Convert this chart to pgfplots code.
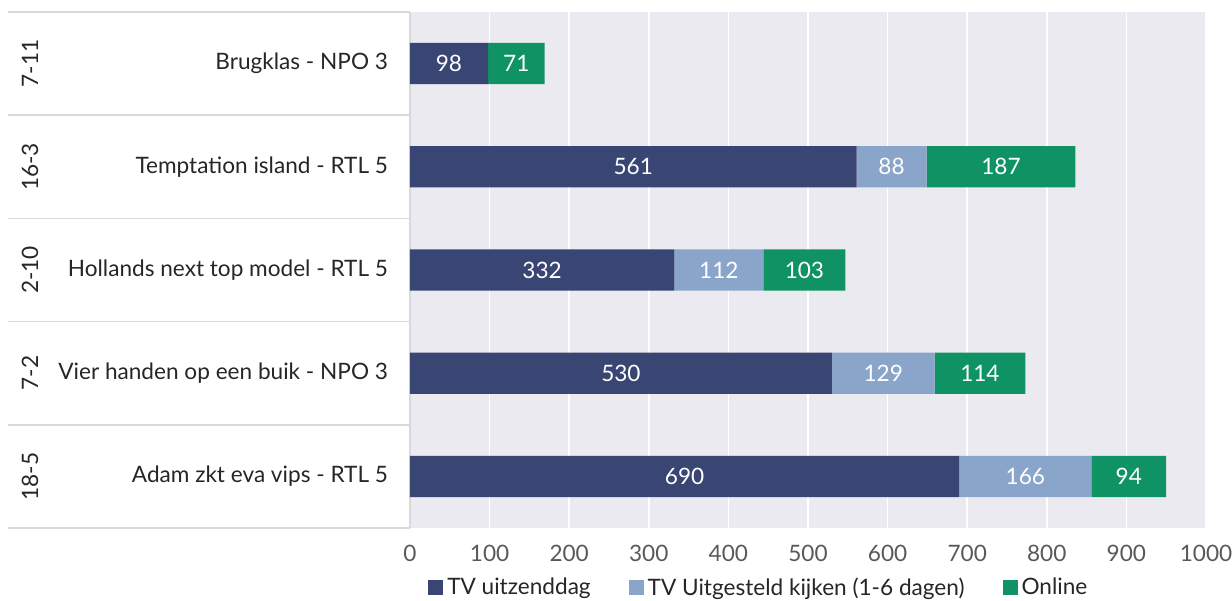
\documentclass[border=0pt]{standalone}
\usepackage{fontspec}
\setmainfont{Lato}
\usepackage{pgfplots}
\usepackage{pgfplotstable}
\pgfplotsset{compat=1.18}

\definecolor{navy}{HTML}{394573}
\definecolor{lblue}{HTML}{8AA5CA}
\definecolor{dgreen}{HTML}{0F9364}
\definecolor{bggrey}{HTML}{EBEAF0}
\definecolor{tablegrey}{HTML}{D9D9D9}
\definecolor{ticktext}{HTML}{595959}

% kijkcijfers (x1000) per programma
\pgfplotstableread{
idx tv uit onl
4 98 0 71
3 561 88 187
2 332 112 103
1 530 129 114
0 690 166 94
}\kijkdata

\newcommand{\lblfont}{\fontsize{11.3bp}{13.5bp}\selectfont}

\pgfplotsset{
  seg/.style={fill=#1, draw=none},
}

\begin{document}
\begin{tikzpicture}
\begin{axis}[
    scale only axis,
    width=398bp, height=258bp,
    xbar stacked, bar width=0.4,
    xmin=0, xmax=1000, ymin=-0.5, ymax=4.5,
    xtick={0,100,...,1000},
    ytick={0,1,2,3,4},
    yticklabels={Adam zkt eva vips - RTL 5, Vier handen op een buik - NPO 3,
      Hollands next top model - RTL 5, Temptation island - RTL 5, Brugklas - NPO 3},
    major tick length=0pt,
    separate axis lines,
    axis x line*=bottom, axis y line*=left,
    x axis line style={draw=none},
    y axis line style={draw=tablegrey, line width=0.75bp},
    axis background/.style={fill=bggrey},
    xmajorgrids, grid style={white, line width=0.75bp},
    tick label style={font=\lblfont},
    xticklabel style={text=ticktext, yshift=-5bp},
    yticklabel style={text=black!85, xshift=-7.5bp},
    /pgf/number format/assume math mode=true,
    /pgf/number format/1000 sep={},
    point meta=explicit,
    nodes near coords={\pgfmathfloatifflags{\pgfplotspointmeta}{0}{}{\pgfmathprintnumber{\pgfplotspointmeta}}},
    every node near coord/.append style={font=\lblfont, anchor=center, text=white},
    legend columns=3,
    legend cell align=left,
    legend style={at={(rel axis cs:0.0225,-0.116)}, anchor=west, draw=none,
      fill=none, inner sep=0pt, font=\lblfont, text=black!85,
      /tikz/every even column/.append style={column sep=17bp}},
    legend image code/.code={\fill[#1] (0bp,-3.75bp) rectangle (7.5bp,3.75bp);},
    clip=false,
]
\addplot[seg=navy] table[x=tv, y=idx, meta=tv] {\kijkdata};
\addlegendentry{TV uitzenddag}
\addplot[seg=lblue] table[x=uit, y=idx, meta=uit] {\kijkdata};
\addlegendentry{TV Uitgesteld kijken (1-6 dagen)}
\addplot[seg=dgreen] table[x=onl, y=idx, meta=onl] {\kijkdata};
\addlegendentry{Online}

% tabel links: scheidingslijnen
\draw[tablegrey, line width=0.75bp] ([xshift=-201bp]axis cs:0,-0.5) -- (axis cs:0,-0.5);
\draw[tablegrey, line width=0.75bp] ([xshift=-201bp]axis cs:0,0.5) -- (axis cs:0,0.5);
\draw[tablegrey, line width=0.75bp] ([xshift=-201bp]axis cs:0,1.5) -- (axis cs:0,1.5);
\draw[tablegrey, line width=0.75bp] ([xshift=-201bp]axis cs:0,2.5) -- (axis cs:0,2.5);
\draw[tablegrey, line width=0.75bp] ([xshift=-201bp]axis cs:0,3.5) -- (axis cs:0,3.5);
\draw[tablegrey, line width=0.75bp] ([xshift=-201bp]axis cs:0,4.5) -- (axis cs:0,4.5);

% datums
\node[rotate=90, font=\lblfont, text=black!85] at ([xshift=-190bp]axis cs:0,4) {7-11};
\node[rotate=90, font=\lblfont, text=black!85] at ([xshift=-190bp]axis cs:0,3) {16-3};
\node[rotate=90, font=\lblfont, text=black!85] at ([xshift=-190bp]axis cs:0,2) {2-10};
\node[rotate=90, font=\lblfont, text=black!85] at ([xshift=-190bp]axis cs:0,1) {7-2};
\node[rotate=90, font=\lblfont, text=black!85] at ([xshift=-190bp]axis cs:0,0) {18-5};

\coordinate (bl) at (rel axis cs:0,0);
\end{axis}
\pgfresetboundingbox
\path[use as bounding box] ([xshift=-205bp, yshift=-36.5bp]bl) rectangle ++(616bp,300.5bp);
\end{tikzpicture}
\end{document}
